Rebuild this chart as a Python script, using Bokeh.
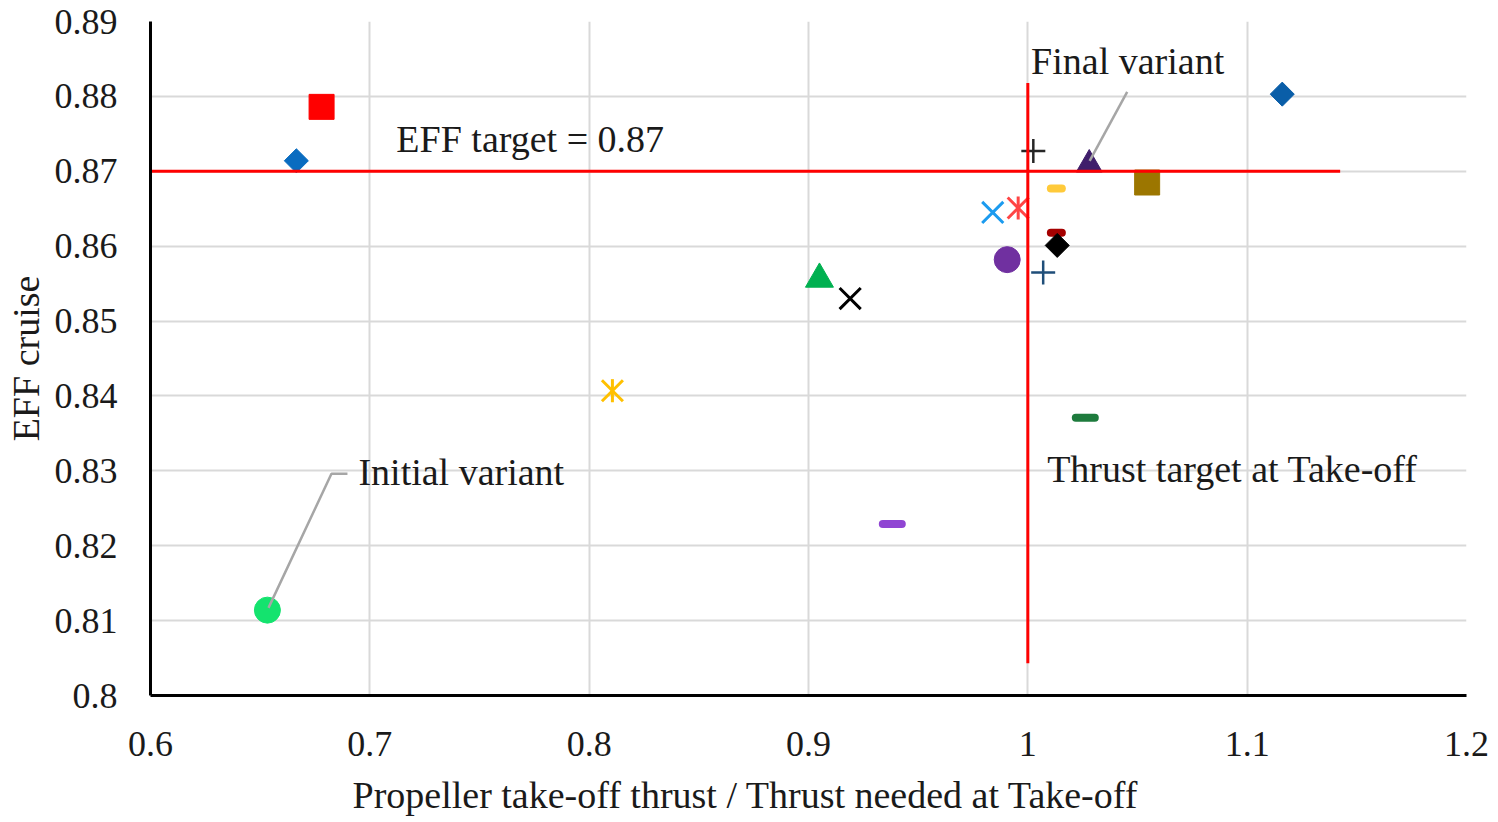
import math
from bokeh.plotting import figure
from bokeh.models import Range1d, FixedTicker, Label, Title
from bokeh.embed import file_html
from bokeh.resources import INLINE

# ---------------- data ----------------
x_ticks = [0.6, 0.7, 0.8, 0.9, 1.0, 1.1, 1.2]
x_tick_labels = ["0.6", "0.7", "0.8", "0.9", "1", "1.1", "1.2"]
y_ticks = [0.8, 0.81, 0.82, 0.83, 0.84, 0.85, 0.86, 0.87, 0.88, 0.89]
y_tick_labels = ["0.8", "0.81", "0.82", "0.83", "0.84", "0.85", "0.86", "0.87", "0.88", "0.89"]

# propeller take-off thrust / thrust needed at take-off
thrust_ratio = [0.678, 0.6665, 0.6533, 0.8106, 0.9382, 0.905, 0.919, 0.984, 0.9956,
                0.9906, 1.0025, 1.013, 1.013, 1.0134, 1.007, 1.028, 1.0544, 1.116, 1.0262]
# cruise efficiency
eff_cruise = [0.8786, 0.8714, 0.8114, 0.8407, 0.8229, 0.8556, 0.853, 0.8645, 0.8651,
              0.8582, 0.8727, 0.8677, 0.8618, 0.8601, 0.8565, 0.8709, 0.8685, 0.8803, 0.8371]

eff_target = 0.87
thrust_target = 1.0
eff_line_end = 1.1424          # end of the horizontal target line
thrust_line_span = [0.8043, 0.8818]  # vertical extent of the thrust target line

initial_leader_x = [0.6898, 0.6825, 0.6538]
initial_leader_y = [0.8296, 0.8296, 0.8117]
final_leader_x = [1.0453, 1.0282]
final_leader_y = [0.8806, 0.8714]

x_title = "Propeller take-off thrust / Thrust needed at Take-off"
y_title = "EFF cruise"

# ---------------- styles ----------------
styles = [
    ("square", "#FF0000", 25),
    ("diamond", "#0A6CC0", 17),
    ("circle", "#14E36E", 26),
    ("star", "#FFC000", 22),
    ("dash", "#9045D3", 19),
    ("triangle", "#00B050", 28),
    ("x", "#000000", 23),
    ("x", "#1C9BEF", 23),
    ("star", "#FF4545", 22),
    ("circle", "#7030A0", 26),
    ("plus", "#262626", 24),
    ("dash", "#FFCA3A", 11),
    ("dash", "#A50000", 11),
    ("diamond", "#000000", 17),
    ("plus", "#1F4E79", 24),
    ("triangle", "#3F1E6B", 26),
    ("square", "#9C7600", 25),
    ("diamond", "#0A5EA8", 17),
    ("dash", "#1E7B3D", 19),
]

FONT = "Liberation Serif"

p = figure(frame_width=1316, frame_height=674,
           x_range=Range1d(0.6, 1.2), y_range=Range1d(0.8, 0.89),
           output_backend="svg", toolbar_location=None,
           min_border_left=150, min_border_right=24,
           min_border_top=21, min_border_bottom=10)
p.outline_line_color = None
p.background_fill_color = "white"

p.xaxis.ticker = FixedTicker(ticks=x_ticks)
p.yaxis.ticker = FixedTicker(ticks=y_ticks)
p.xaxis.major_label_overrides = dict(zip(x_ticks, x_tick_labels))
p.yaxis.major_label_overrides = dict(zip(y_ticks, y_tick_labels))
for ax in (p.xaxis, p.yaxis):
    ax.axis_line_color = "black"
    ax.axis_line_width = 3
    ax.major_tick_line_color = None
    ax.minor_tick_line_color = None
    ax.major_label_text_font = FONT
    ax.major_label_text_font_size = "36px"
    ax.major_label_text_color = "#1a1a1a"
p.xaxis.major_label_standoff = 30
p.yaxis.major_label_standoff = 27

p.yaxis.axis_label = y_title
p.yaxis.axis_label_text_font = FONT
p.yaxis.axis_label_text_font_size = "38px"
p.yaxis.axis_label_text_font_style = "normal"
p.yaxis.axis_label_text_color = "#1a1a1a"
p.yaxis.axis_label_standoff = 5

p.add_layout(Title(text=x_title, align="left", offset=202, text_font=FONT,
                   text_font_size="38px", text_font_style="normal",
                   text_color="#1a1a1a", standoff=26), "below")

p.xgrid.grid_line_color = "#D9D9D9"
p.ygrid.grid_line_color = "#D9D9D9"
p.xgrid.grid_line_width = 2
p.ygrid.grid_line_width = 2

# ---------------- markers ----------------
for i, (kind, color, size) in enumerate(styles):
    xs = [thrust_ratio[i]]
    ys = [eff_cruise[i]]
    if kind == "square":
        p.scatter(xs, ys, marker="square", size=size, fill_color=color, line_color=color)
    elif kind == "diamond":
        p.scatter(xs, ys, marker="square", angle=math.pi / 4, size=size,
                  fill_color=color, line_color=color)
    elif kind == "circle":
        p.scatter(xs, ys, marker="circle", size=size, fill_color=color, line_color=color)
    elif kind == "triangle":
        p.scatter(xs, ys, marker="triangle", size=size, fill_color=color, line_color=color)
    elif kind == "x":
        p.scatter(xs, ys, marker="x", size=size * 1.3, line_color=color, line_width=3)
    elif kind == "plus":
        p.scatter(xs, ys, marker="cross", size=size, line_color=color, line_width=2.5)
    elif kind == "star":
        p.scatter(xs, ys, marker="x", size=size * 1.35, line_color=color, line_width=3)
        p.scatter(xs, ys, marker="dash", angle=math.pi / 2, size=size * 1.05,
                  line_color=color, line_width=3)
    elif kind == "dash":
        p.scatter(xs, ys, marker="dash", size=size, line_color=color, line_width=8,
                  line_cap="round")

# ---------------- target lines ----------------
p.line([p.x_range.start, eff_line_end], [eff_target, eff_target],
       line_color="#FF0000", line_width=3)
p.line([thrust_target, thrust_target], thrust_line_span,
       line_color="#FF0000", line_width=3)

# ---------------- leader lines ----------------
p.line(initial_leader_x, initial_leader_y, line_color="#A6A6A6", line_width=2.5)
p.line(final_leader_x, final_leader_y, line_color="#A6A6A6", line_width=2.5)

# ---------------- texts ----------------
def add_text(x, y, text):
    p.add_layout(Label(x=x, y=y, text=text, text_font=FONT, text_font_size="38px",
                       text_color="#1a1a1a", text_baseline="middle",
                       text_align="left"))

add_text(0.7121, 0.8743, "EFF target = 0.87")
add_text(1.0015, 0.8847, "Final variant")
add_text(0.6948, 0.8298, "Initial variant")
add_text(1.0088, 0.8302, "Thrust target at Take-off")

open("out.html", "w").write(file_html(p, INLINE))
